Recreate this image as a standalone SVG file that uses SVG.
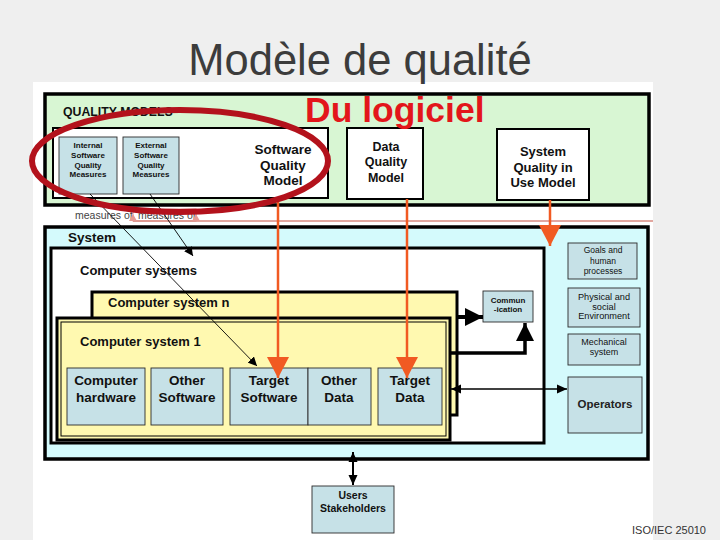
<svg xmlns="http://www.w3.org/2000/svg" width="720" height="540" viewBox="0 0 720 540">
<style>
.t{font-family:"Liberation Sans",Arial,sans-serif;fill:#111}
.b{font-weight:bold}
.c{text-anchor:middle}
.blk{fill:none;stroke:#000}
.blue{fill:#c6e1e7;stroke:#2a2a2a;stroke-width:0.9}
.org{stroke:#f15a22;stroke-width:2.5;fill:none}
</style>
<defs>
<marker id="ao" markerUnits="userSpaceOnUse" markerWidth="22" markerHeight="22" refX="21" refY="11" orient="auto"><path d="M0,0 L21,11 L0,22 z" fill="#f15a22"/></marker>
<marker id="ab" markerUnits="userSpaceOnUse" markerWidth="18" markerHeight="18" refX="18" refY="9" orient="auto"><path d="M0,0 L18,9 L0,18 z" fill="#000"/></marker>
<marker id="as" markerUnits="userSpaceOnUse" markerWidth="10" markerHeight="10" refX="10" refY="5" orient="auto-start-reverse"><path d="M0,0.5 L10,5 L0,9.5 z" fill="#000"/></marker>
<marker id="at" markerUnits="userSpaceOnUse" markerWidth="9" markerHeight="9" refX="9" refY="4.5" orient="auto"><path d="M0,0 L9,4.5 L0,9 z" fill="#000"/></marker>
</defs>
<rect width="720" height="540" fill="#efefef"/>
<rect x="33" y="82" width="620" height="458" fill="#fff"/>
<text class="t c" x="360" y="75" font-size="43.5" style="fill:#3c3c3c">Modèle de qualité</text>

<g id="quality-models">
<rect x="45" y="94" width="604" height="111" fill="#d8f6d3" stroke="#000" stroke-width="3.5"/>
<text class="t b" x="63" y="116" font-size="12.3">QUALITY MODELS</text>
</g>
<g id="software-quality-model">
<rect x="53" y="128" width="275" height="70" fill="#fff" stroke="#000" stroke-width="2"/>
<text class="t b c" x="283" y="154" font-size="13.5">Software</text>
<text class="t b c" x="283" y="170" font-size="13.5">Quality</text>
<text class="t b c" x="283" y="185" font-size="13.5">Model</text>
</g>
<g id="internal-measures">
<rect class="blue" x="59" y="137" width="58" height="57"/>
<text class="t b c" x="88" y="148" font-size="8">Internal</text>
<text class="t b c" x="88" y="158" font-size="8">Software</text>
<text class="t b c" x="88" y="168" font-size="8">Quality</text>
<text class="t b c" x="88" y="177" font-size="8">Measures</text>
</g>
<g id="external-measures">
<rect class="blue" x="123" y="137" width="56" height="57"/>
<text class="t b c" x="151" y="148" font-size="8">External</text>
<text class="t b c" x="151" y="158" font-size="8">Software</text>
<text class="t b c" x="151" y="168" font-size="8">Quality</text>
<text class="t b c" x="151" y="177" font-size="8">Measures</text>
</g>
<g id="data-quality-model">
<rect x="347" y="128" width="76" height="71" fill="#fff" stroke="#000" stroke-width="2"/>
<text class="t b c" x="386" y="151" font-size="12.5">Data</text>
<text class="t b c" x="386" y="166" font-size="12.5">Quality</text>
<text class="t b c" x="386" y="182" font-size="12.5">Model</text>
</g>
<g id="system-quality-in-use">
<rect x="497" y="129" width="92" height="71" fill="#fff" stroke="#000" stroke-width="2"/>
<text class="t b c" x="543" y="156" font-size="13">System</text>
<text class="t b c" x="543" y="172" font-size="13">Quality in</text>
<text class="t b c" x="543" y="187" font-size="13">Use Model</text>
</g>

<g id="measures-of">
<text class="t" x="75" y="219" font-size="10.5" style="fill:#444">measures of</text>
<rect x="133" y="209" width="63" height="12" fill="#fff" stroke="#e09090" stroke-width="1"/>
<text class="t" x="138" y="219" font-size="10.5" style="fill:#444">measures of</text>
<line x1="133" y1="221" x2="653" y2="221" stroke="#d98a80" stroke-width="1.6"/>
<path d="M129,221 L133,214 L137,221 z M192,221 L196,214 L200,221 z" fill="#e59a94"/>
</g>

<g id="system">
<rect x="45" y="227" width="603" height="232" fill="#d4fafc" stroke="#000" stroke-width="3.5"/>
<text class="t b" x="68" y="242" font-size="13.5">System</text>
</g>
<g id="computer-systems">
<rect x="51" y="248" width="493" height="195" fill="#fff" stroke="#000" stroke-width="3"/>
<text class="t b" x="80" y="275" font-size="13">Computer systems</text>
</g>
<g id="computer-system-n">
<rect x="92" y="292" width="365" height="123" fill="#fff9b0" stroke="#000" stroke-width="3"/>
<text class="t b" x="108" y="307" font-size="13">Computer system n</text>
</g>
<g id="computer-system-1">
<rect x="57" y="318" width="393" height="122" fill="#fff9b0" stroke="#000" stroke-width="3"/>
<rect x="61" y="322" width="385" height="114" fill="none" stroke="#000" stroke-width="1"/>
<text class="t b" x="80" y="346" font-size="13">Computer system 1</text>
</g>
<g id="computer-hardware">
<rect class="blue" x="67" y="368" width="78" height="57"/>
<text class="t b c" x="106" y="385" font-size="13.5">Computer</text>
<text class="t b c" x="106" y="402" font-size="13.5">hardware</text>
</g>
<g id="other-software">
<rect class="blue" x="151" y="368" width="72" height="57"/>
<text class="t b c" x="187" y="385" font-size="13.5">Other</text>
<text class="t b c" x="187" y="402" font-size="13.5">Software</text>
</g>
<g id="target-software">
<rect class="blue" x="230" y="368" width="78" height="57"/>
<text class="t b c" x="269" y="385" font-size="13.5">Target</text>
<text class="t b c" x="269" y="402" font-size="13.5">Software</text>
</g>
<g id="other-data">
<rect class="blue" x="308" y="368" width="63" height="57"/>
<text class="t b c" x="339" y="385" font-size="13.5">Other</text>
<text class="t b c" x="339" y="402" font-size="13.5">Data</text>
</g>
<g id="target-data">
<rect class="blue" x="378" y="368" width="64" height="57"/>
<text class="t b c" x="410" y="385" font-size="13.5">Target</text>
<text class="t b c" x="410" y="402" font-size="13.5">Data</text>
</g>
<g id="communication">
<rect class="blue" x="483" y="291" width="50" height="31"/>
<text class="t b c" x="508" y="303" font-size="8">Commun</text>
<text class="t b c" x="508" y="312" font-size="8">-ication</text>
</g>
<g id="goals">
<rect class="blue" x="568" y="243" width="69" height="36"/>
<text class="t c" x="603" y="253" font-size="8.5">Goals and</text>
<text class="t c" x="603" y="264" font-size="8.5">human</text>
<text class="t c" x="603" y="274" font-size="8.5">processes</text>
</g>
<g id="physical-environment">
<rect class="blue" x="568" y="288" width="72" height="39"/>
<text class="t c" x="604" y="300" font-size="9.2">Physical and</text>
<text class="t c" x="604" y="310" font-size="9.2">social</text>
<text class="t c" x="604" y="319" font-size="9.2">Environment</text>
</g>
<g id="mechanical-system">
<rect class="blue" x="568" y="334" width="72" height="31"/>
<text class="t c" x="604" y="345" font-size="9">Mechanical</text>
<text class="t c" x="604" y="355" font-size="9">system</text>
</g>
<g id="operators">
<rect class="blue" x="568" y="377" width="74" height="56"/>
<text class="t b c" x="605" y="408" font-size="11.5" style="fill:#222">Operators</text>
</g>
<g id="users-stakeholders">
<rect class="blue" x="312" y="486" width="82" height="47"/>
<text class="t b c" x="353" y="499" font-size="10.5">Users</text>
<text class="t b c" x="353" y="512" font-size="10.5">Stakeholders</text>
</g>

<g id="connectors">
<line class="org" x1="278" y1="198" x2="278" y2="378" marker-end="url(#ao)"/>
<line class="org" x1="407" y1="199" x2="407" y2="378" marker-end="url(#ao)"/>
<line class="org" x1="550" y1="200" x2="550" y2="246" marker-end="url(#ao)"/>
<line class="blk" x1="90" y1="194" x2="257" y2="366" stroke-width="0.9" marker-end="url(#at)"/>
<line class="blk" x1="150" y1="194" x2="193" y2="256" stroke-width="0.9" marker-end="url(#at)"/>
<line class="blk" x1="457" y1="317" x2="483" y2="317" stroke-width="4" marker-end="url(#ab)"/>
<path class="blk" d="M451,353 H525 V323" stroke-width="3.5" marker-end="url(#ab)"/>
<line class="blk" x1="451" y1="389" x2="567" y2="389" stroke-width="1.5" marker-start="url(#as)" marker-end="url(#as)"/>
<line class="blk" x1="353" y1="452" x2="353" y2="485" stroke-width="2" marker-start="url(#as)" marker-end="url(#as)"/>
</g>

<g id="highlight">
<ellipse cx="180" cy="161" rx="148" ry="51" fill="none" stroke="#b3121c" stroke-width="6"/>
<text class="t b" x="305" y="122" font-size="35.5" style="fill:#e3161b">Du logiciel</text>
</g>
<text class="t" x="632" y="534" font-size="11" style="fill:#333">ISO/IEC 25010</text>
</svg>
